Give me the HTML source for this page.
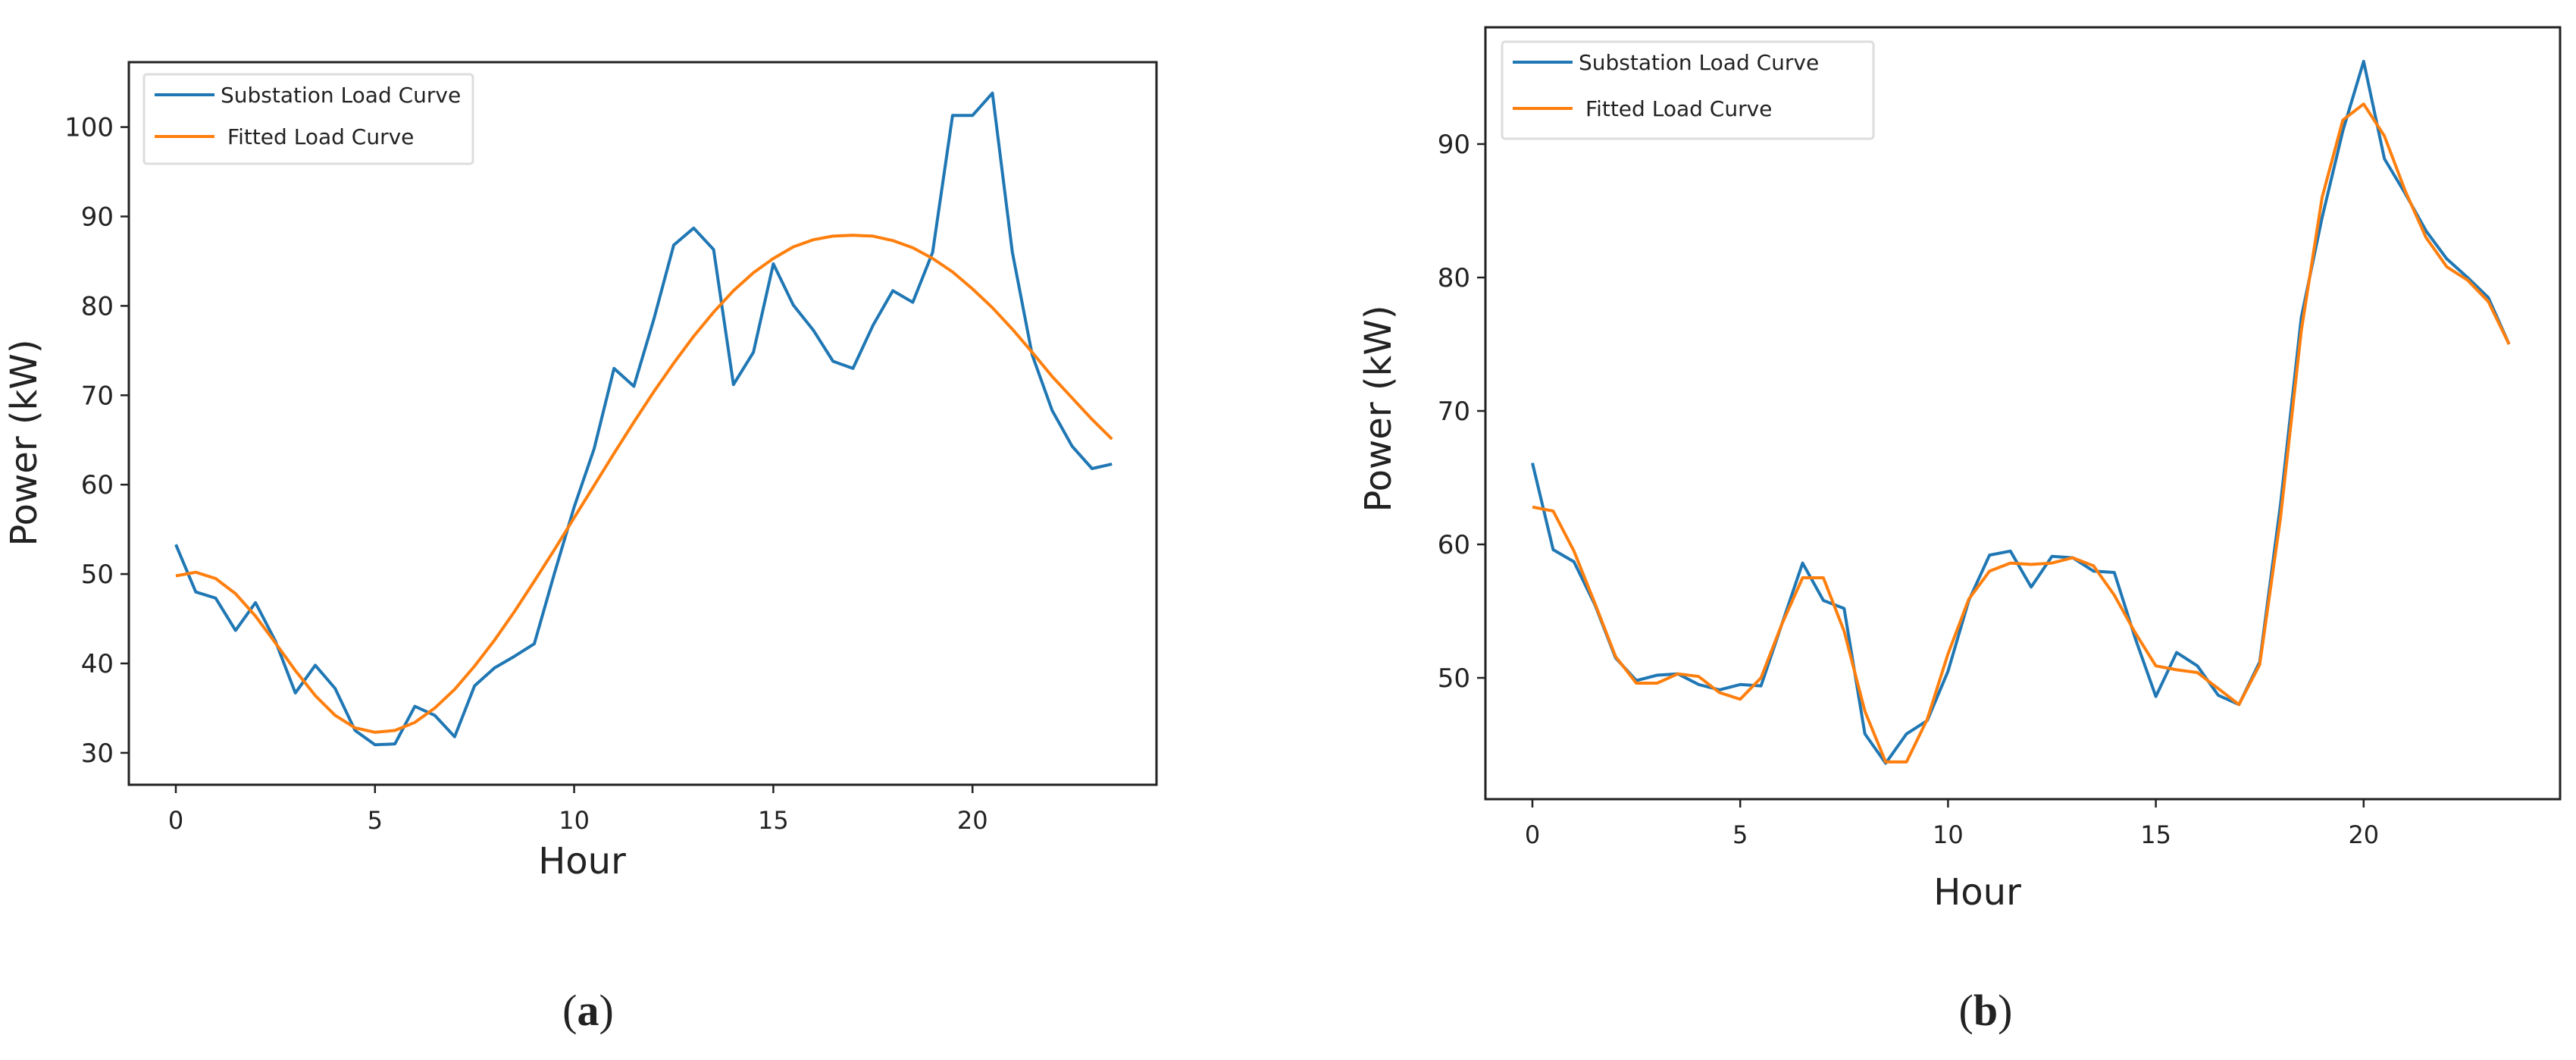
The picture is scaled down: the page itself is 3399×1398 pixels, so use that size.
<!DOCTYPE html>
<html><head><meta charset="utf-8"><style>
html,body{margin:0;padding:0;background:#fff}
svg{display:block}
text{font-family:"DejaVu Sans","Liberation Sans",sans-serif;fill:#222}
</style></head><body>
<svg id="svg" width="3399" height="1398" viewBox="0 0 3399 1398" xmlns="http://www.w3.org/2000/svg"></svg>
<script>
const hours = [];
for (let i = 0; i < 48; i++) hours.push(i * 0.5);
const aSubstation = [53.3,48,47.3,43.7,46.8,42.5,36.7,39.8,37.2,32.5,30.9,31,35.2,34.2,31.8,37.5,39.5,40.8,42.2,50,57.5,64,73,71,78.5,86.8,88.7,86.3,71.2,74.8,84.7,80.1,77.3,73.8,73,77.8,81.7,80.4,86,101.3,101.3,103.8,86,74.5,68.3,64.3,61.8,62.3];
const aFitted = [49.8,50.2,49.5,47.8,45.3,42.3,39.2,36.4,34.2,32.8,32.3,32.5,33.4,35,37.1,39.7,42.6,45.8,49.2,52.7,56.3,59.9,63.5,67,70.4,73.6,76.6,79.3,81.7,83.7,85.3,86.6,87.4,87.8,87.9,87.8,87.3,86.5,85.3,83.8,81.9,79.8,77.4,74.8,72.1,69.7,67.3,65.1];
const bSubstation = [66.1,59.6,58.7,55.5,51.5,49.8,50.2,50.3,49.5,49.1,49.5,49.4,54,58.6,55.8,55.2,45.8,43.6,45.8,46.8,50.5,55.8,59.2,59.5,56.8,59.1,59,58,57.9,53,48.6,51.9,50.9,48.7,48,51.2,63,77,84.5,91,96.2,88.9,86.3,83.5,81.4,80,78.5,75];
const bFitted = [62.8,62.5,59.5,55.6,51.6,49.6,49.6,50.3,50.1,48.9,48.4,50,54,57.5,57.5,53.5,47.5,43.7,43.7,46.9,51.8,55.9,58,58.6,58.5,58.6,59,58.4,56.2,53.4,50.9,50.6,50.4,49.2,48,51,62,76,86,91.8,93,90.6,86.5,83,80.8,79.8,78.2,75];
const xTicks = [0,5,10,15,20];
const aYTicks = [30,40,50,60,70,80,90,100];
const bYTicks = [50,60,70,80,90];

const svg = document.getElementById('svg');
const NS = 'http://www.w3.org/2000/svg';
function mk(tag, attrs, parent) {
  const e = document.createElementNS(NS, tag);
  for (const k in attrs) e.setAttribute(k, attrs[k]);
  (parent || svg).appendChild(e);
  return e;
}

function chart(cfg) {
  const g = mk('g', {});
  
  
  const X = h => cfg.x0 + (h) * cfg.px;
  const Y = v => cfg.yRef + (cfg.vRef - v) * cfg.py;
  const box = mk('rect', {x: cfg.L, y: cfg.T, width: cfg.R - cfg.L, height: cfg.B - cfg.T, fill: 'none', stroke: '#222', 'stroke-width': 3}, g);
  
  
  xTicks.forEach(t => {
    const l = mk('line', {x1: X(t), x2: X(t), y1: cfg.B, y2: cfg.B + 11, stroke: '#222', 'stroke-width': 2.5}, g);
    
    
    const tx = mk('text', {x: X(t), y: cfg.B + 58, 'font-size': 32, 'text-anchor': 'middle'}, g);
    tx.textContent = t;
    
    
  });
  cfg.yTicks.forEach(t => {
    const l = mk('line', {x1: cfg.L - 11, x2: cfg.L, y1: Y(t), y2: Y(t), stroke: '#222', 'stroke-width': 2.5}, g);
    
    
    const tx = mk('text', {x: cfg.L - 20, y: Y(t) + 12, 'font-size': 34, 'text-anchor': 'end'}, g);
    tx.textContent = t;
    
    
  });
  const pts = arr => arr.map((v, i) => X(hours[i]).toFixed(1) + ',' + Y(v).toFixed(1)).join(' ');
  const s1 = mk('polyline', {points: pts(cfg.sub), fill: 'none', stroke: '#1f77b4', 'stroke-width': 4, 'stroke-linejoin': 'round'}, g);
  
  
  const s2 = mk('polyline', {points: pts(cfg.fit), fill: 'none', stroke: '#ff7f0e', 'stroke-width': 4, 'stroke-linejoin': 'round'}, g);
  
  
  const xt = mk('text', {x: cfg.hourX, y: cfg.hourY, 'font-size': 48, 'text-anchor': 'middle'}, g);
  xt.textContent = 'Hour';
  
  
  const yt = mk('text', {x: 0, y: 0, 'font-size': 48, 'text-anchor': 'middle', transform: 'translate(' + cfg.powX + ',' + cfg.powY + ') rotate(-90)'}, g);
  yt.textContent = 'Power (kW)';
  
  
  const lg = mk('g', {}, g);
  
  
  const lb = cfg.leg;
  mk('rect', {x: lb.x, y: lb.y, width: lb.w, height: lb.h, fill: '#fff', stroke: '#ddd', 'stroke-width': 3, rx: 4}, lg);
  [['Substation Load Curve', '#1f77b4', lb.e1, 0], ['Fitted Load Curve', '#ff7f0e', lb.e2, 9]].forEach(e => {
    const ln = mk('line', {x1: lb.x + 14, x2: lb.x + 93, y1: e[2], y2: e[2], stroke: e[1], 'stroke-width': 4}, lg);
    
    
    const t = mk('text', {x: lb.x + 101 + e[3], y: e[2] + 10, 'font-size': 28}, lg);
    t.textContent = e[0];
    
    
  });
  const cap = mk('text', {x: cfg.capX, y: 1352, 'font-size': 58, 'text-anchor': 'middle', style: 'font-family:"Liberation Serif",serif'}, g);
  cap.innerHTML = '(<tspan font-weight="bold">' + cfg.id + '</tspan>)';
  
  
}

chart({id: 'a', L: 170, R: 1526, T: 82, B: 1035, x0: 232, px: 52.56, yRef: 167.6, vRef: 100, py: 11.79,
  yTicks: aYTicks, sub: aSubstation, fit: aFitted, hourX: 768, hourY: 1152, powX: 48, powY: 584, capX: 776,
  leg: {x: 190, y: 98, w: 434, h: 118, e1: 125, e2: 180}});
chart({id: 'b', L: 1960, R: 3378, T: 36, B: 1054, x0: 2022, px: 54.84, yRef: 190, vRef: 90, py: 17.6,
  yTicks: bYTicks, sub: bSubstation, fit: bFitted, hourX: 2609, hourY: 1193, powX: 1835, powY: 539, capX: 2620,
  leg: {x: 1982, y: 55, w: 490, h: 128, e1: 82, e2: 143}});
</script>
</body></html>
